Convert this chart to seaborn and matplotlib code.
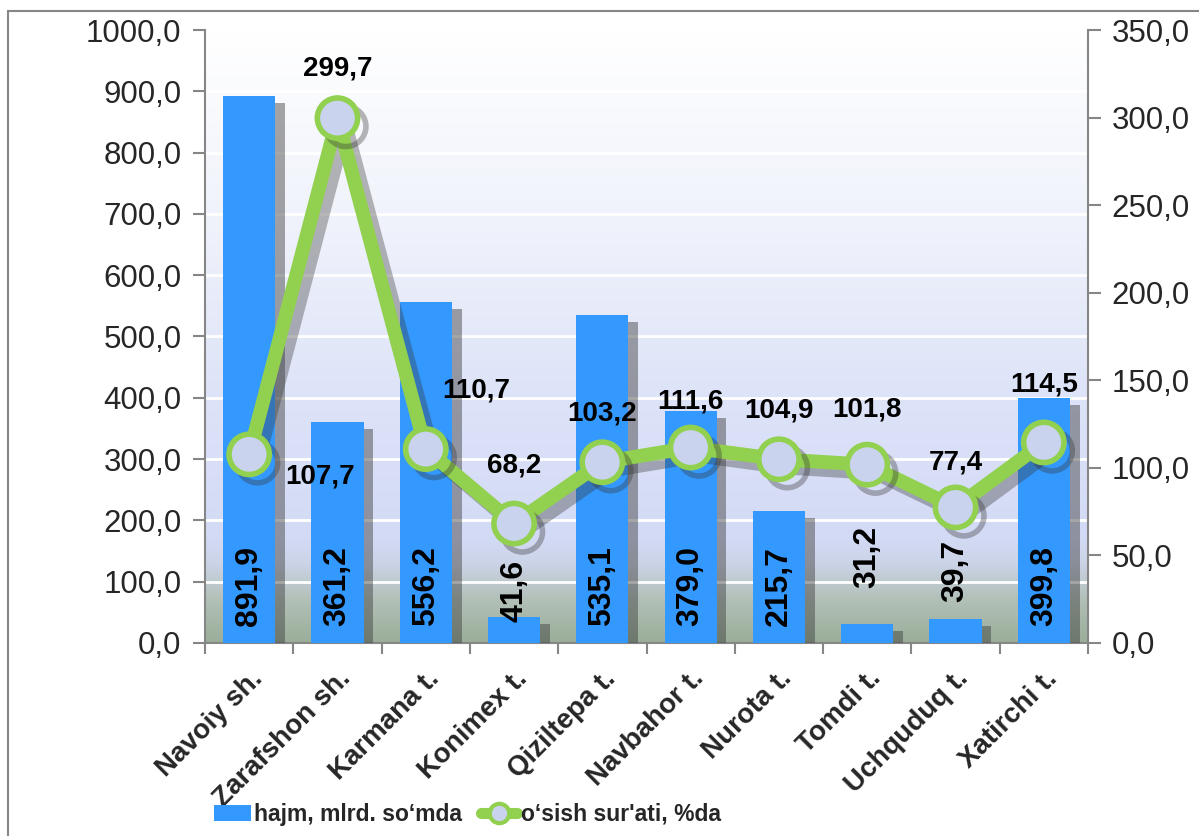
import numpy as np
import pandas as pd
import matplotlib
matplotlib.use("Agg")
import matplotlib.pyplot as plt
import matplotlib.patheffects as pe
from matplotlib.colors import LinearSegmentedColormap
from matplotlib.lines import Line2D
from matplotlib.patches import Patch, Rectangle
import seaborn as sns

# data
districts = ["Navoiy sh.", "Zarafshon sh.", "Karmana t.", "Konimex t.", "Qiziltepa t.",
             "Navbahor t.", "Nurota t.", "Tomdi t.", "Uchquduq t.", "Xatirchi t."]
volume = [891.9, 361.2, 556.2, 41.6, 535.1, 379.0, 215.7, 31.2, 39.7, 399.8]
growth = [107.7, 299.7, 110.7, 68.2, 103.2, 111.6, 104.9, 101.8, 77.4, 114.5]
left_ticks = np.arange(0, 1001, 100)
right_ticks = np.arange(0, 351, 50)
bar_name = "hajm, mlrd. so\u2018mda"
line_name = "o\u2018sish sur'ati, %da"

# label placement (styling only)
bar_label_base = [28, 28, 28, 34, 28, 28, 28, 90, 67, 28]
line_label_off = [(51, -16), (0, 36), (36, 42), (0, 42), (0, 35),
                  (0, 33), (0, 35), (0, 40), (0, 32), (0, 42)]

sns.set_style("ticks")
plt.rcParams["font.family"] = ["Liberation Sans", "DejaVu Sans"]

BLUE = "#3399FF"
GREEN = "#92D050"
GREY = "#868686"


def fmt(v):
    return f"{v:.1f}".replace(".", ",")


df = pd.DataFrame({"district": districts, "volume": volume, "growth": growth})

fig = plt.figure(figsize=(11.99, 8.36), dpi=100)
ax = fig.add_axes([0.171, 0.2309, 0.7364, 0.7332])

# gradient background
bg = LinearSegmentedColormap.from_list("bg", [
    (0.0, "#9AAE99"), (0.07, "#B2C0B8"), (0.13, "#CCD4E8"), (0.17, "#D3DAF5"),
    (0.40, "#DDE3F8"), (0.65, "#EEF1FB"), (1.0, "#FFFFFF")])
grad = np.linspace(0, 1, 256).reshape(-1, 1)
ax.imshow(grad, cmap=bg, aspect="auto", extent=[0, 1, 0, 1], origin="lower",
          transform=ax.transAxes, zorder=-2)
ax.patch.set_visible(False)

sns.barplot(data=df, x="district", y="volume", color=BLUE, width=0.59,
            saturation=1, errorbar=None, ax=ax, zorder=3, linewidth=0, edgecolor="none")
for bar in ax.patches:
    bar.set_path_effects([pe.SimplePatchShadow(offset=(7, -5), shadow_rgbFace="#3a3a3a", alpha=0.45),
                          pe.Normal()])

for i, v in enumerate(volume):
    ax.text(i, bar_label_base[i], fmt(v), rotation=90, ha="center", va="bottom",
            fontsize=23, fontweight="bold", color="black", zorder=4)

ax.set_xlim(-0.5, len(districts) - 0.5)
ax.set_ylim(0, 1000)
ax.set_yticks(left_ticks)
ax.set_yticklabels([fmt(t) for t in left_ticks])
ax.yaxis.grid(True, color="white", lw=2)
ax.set_axisbelow(True)
ax.set_xlabel("")
ax.set_ylabel("")
ax.set_xticks(range(len(districts)))
ax.set_xticklabels(districts, rotation=45, ha="right", rotation_mode="anchor",
                   fontsize=20, fontweight="bold")
ax.set_xticks(np.arange(-0.5, len(districts), 1), minor=True)
ax.tick_params(axis="x", which="major", length=0, pad=16)
ax.tick_params(axis="x", which="minor", length=8, width=1.5, color=GREY)
ax.tick_params(axis="y", length=9, width=1.5, color=GREY, labelsize=22.5, pad=8)
for s in ["left", "bottom"]:
    ax.spines[s].set_color(GREY)
    ax.spines[s].set_linewidth(1.5)
ax.spines["top"].set_visible(False)
ax.spines["right"].set_visible(False)

# growth line on the right axis
ax2 = ax.twinx()
sns.lineplot(x=np.arange(len(growth)), y=growth, ax=ax2, color=GREEN, lw=10,
             marker="o", markersize=29, markerfacecolor="#C9D3EE",
             markeredgecolor=GREEN, markeredgewidth=4, zorder=5)
ax2.lines[0].set_path_effects([pe.SimpleLineShadow(offset=(6, -6), shadow_color="#333333", alpha=0.35),
                               pe.Normal()])
for i, g in enumerate(growth):
    ax2.annotate(fmt(g), (i, g), xytext=line_label_off[i], textcoords="offset points",
                 ha="center", va="center", fontsize=20, fontweight="bold", color="black")
ax2.set_ylim(0, 350)
ax2.set_yticks(right_ticks)
ax2.set_yticklabels([fmt(t) for t in right_ticks])
ax2.tick_params(axis="y", length=9, width=1.5, color=GREY, labelsize=22.5, pad=8)
ax2.set_ylabel("")
for s in ["top", "left", "bottom"]:
    ax2.spines[s].set_visible(False)
ax2.spines["right"].set_color(GREY)
ax2.spines["right"].set_linewidth(1.5)

handles = [Patch(facecolor=BLUE, edgecolor="none"),
           Line2D([0], [0], color=GREEN, lw=8, marker="o", markersize=14,
                  markerfacecolor="#C9D3EE", markeredgecolor=GREEN, markeredgewidth=3)]
fig.legend(handles, [bar_name, line_name], loc="center", bbox_to_anchor=(0.39, 0.026),
           ncol=2, frameon=False, prop={"size": 16.5, "weight": "bold"},
           handlelength=1.6, handleheight=0.7, handletextpad=0.15, columnspacing=0.8)

fig.patches.append(Rectangle((8 / 1199, -0.01), 1.0, (836 - 11) / 836 + 0.01,
                             transform=fig.transFigure, fill=False, edgecolor=GREY, lw=1.5))

fig.savefig("out.png", dpi=100)
